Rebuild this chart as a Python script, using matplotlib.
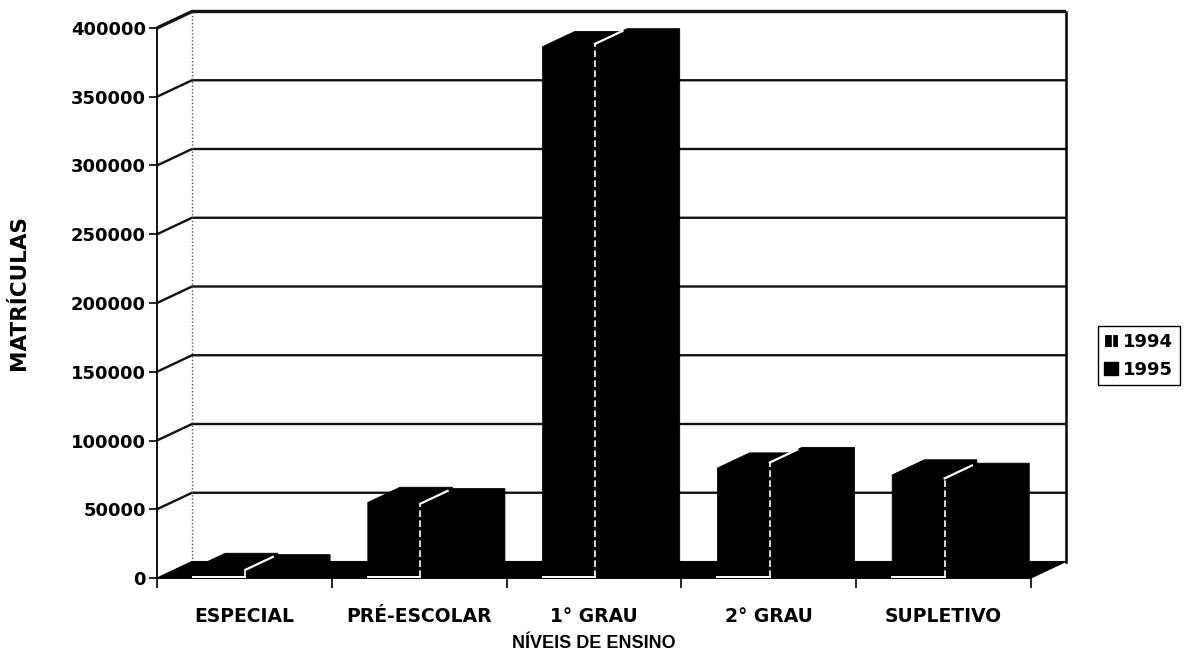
import numpy as np
import matplotlib.pyplot as plt
from matplotlib.patches import Polygon, Patch

categorias = ['ESPECIAL', 'PRÉ-ESCOLAR', '1° GRAU', '2° GRAU', 'SUPLETIVO']
matriculas_1994 = [6000, 54000, 385500, 79000, 74000]
matriculas_1995 = [5000, 53000, 387500, 83000, 71500]
anos = ['1994', '1995']
ticks_y = np.arange(0, 400001, 50000)

W, H = 1187, 658
fig = plt.figure(figsize=(W / 100, H / 100), dpi=100)
ax = fig.add_axes([157 / W, 80 / H, 874 / W, 550 / H])
ax.set_xlim(-0.5, len(categorias) - 0.5)
ax.set_ylim(0, 400000)
ax.patch.set_visible(False)

# profundidade do grafico "3D" (em unidades de categoria e de valor)
px_cat = 874 / 5
px_val = 550 / 400000
DX = 35 / px_cat
DY = 16.5 / px_val
x0, x1 = -0.5, len(categorias) - 0.5
ytop = ticks_y[-1]

# parede do fundo, parede lateral e linhas de grade
ax.add_patch(Polygon([(x0 + DX, DY), (x1 + DX, DY), (x1 + DX, ytop + DY), (x0 + DX, ytop + DY)],
                     closed=True, fc='white', ec='none', zorder=1, clip_on=False))
for v in ticks_y[1:]:
    lw = 2.4 if v == ytop else 1.7
    ax.plot([x0, x0 + DX, x1 + DX], [v, v + DY, v + DY], color='#111111', lw=lw,
            zorder=1.5, clip_on=False, solid_capstyle='butt')
ax.plot([x1 + DX, x1 + DX], [DY, ytop + DY], color='black', lw=1.8, zorder=1.5, clip_on=False)
ax.plot([x0 + DX, x0 + DX], [DY, ytop + DY], color='#555555', lw=1.0, ls=(0, (1, 1.5)),
        zorder=1.5, clip_on=False)

# piso
ax.add_patch(Polygon([(x0, 0), (x1, 0), (x1 + DX, DY), (x0 + DX, DY)],
                     closed=True, fc='black', ec='black', lw=0.8, zorder=2, clip_on=False))

# barras em perspectiva
w = 0.3
z0, z1 = 0.08, 1.0


def barra(xe, v):
    fx, fy = xe + z0 * DX, z0 * DY
    bx, by = xe + z1 * DX, z1 * DY
    contorno = [(fx, fy), (fx + w, fy), (bx + w, by), (bx + w, by + v),
                (bx, by + v), (fx, fy + v)]
    ax.add_patch(Polygon(contorno, closed=True, fc='black', ec='black', lw=0.6,
                         zorder=3, clip_on=False))
    return fx, fy, bx, by


for i, (a, b) in enumerate(zip(matriculas_1994, matriculas_1995)):
    fx, fy, _, _ = barra(i - 0.31, a)
    ax.plot([fx, fx + w], [fy, fy], color='white', lw=1.4, zorder=4, clip_on=False)
    fx, fy, bx, by = barra(i - 0.01, b)
    ax.plot([fx, fx], [fy, fy + b], color='white', lw=1.2, ls=(0, (4, 2)), zorder=4, clip_on=False)
    ax.plot([fx, fx + 0.85 * (bx - fx)], [fy + b, fy + b + 0.85 * (by - fy)],
            color='white', lw=1.6, zorder=4, clip_on=False)

# eixos
for s in ['top', 'right']:
    ax.spines[s].set_visible(False)
ax.spines['left'].set_linewidth(1.3)
ax.spines['bottom'].set_linewidth(1.3)
ax.spines['left'].set_zorder(5)

ax.set_yticks(ticks_y)
ax.set_yticklabels([str(v) for v in ticks_y], fontsize=13, fontweight='bold')
ax.tick_params(axis='y', direction='out', length=6, width=1.2, pad=2)

ax.set_xticks(range(len(categorias)))
ax.set_xticklabels(categorias, fontsize=13.5, fontweight='bold')
ax.set_xticks(np.arange(-0.5, len(categorias), 1), minor=True)
ax.tick_params(axis='x', which='major', length=0, pad=21)
ax.tick_params(axis='x', which='minor', direction='out', length=7, width=1.2)

ax.set_xlabel('NÍVEIS DE ENSINO', fontsize=13, fontweight='bold', family='Liberation Sans')
ax.xaxis.set_label_coords(0.5, -0.103)
ax.set_ylabel('MATRÍCULAS', fontsize=15.5, fontweight='bold')
ax.yaxis.set_label_coords(-0.147, 0.52)

handles = [Patch(facecolor='black', edgecolor='white', hatch='||', lw=0.8),
           Patch(facecolor='black', edgecolor='black')]
leg = fig.legend(handles, anos, loc='lower left', bbox_to_anchor=(1098 / W, (H - 385) / H),
                 frameon=True, fancybox=False, edgecolor='black', framealpha=1,
                 prop={'weight': 'bold', 'size': 13}, handlelength=0.75, handleheight=0.75,
                 handletextpad=0.3, borderpad=0.35, labelspacing=0.55, borderaxespad=0)
leg.get_frame().set_linewidth(1.0)

fig.savefig('out.png', dpi=100)
